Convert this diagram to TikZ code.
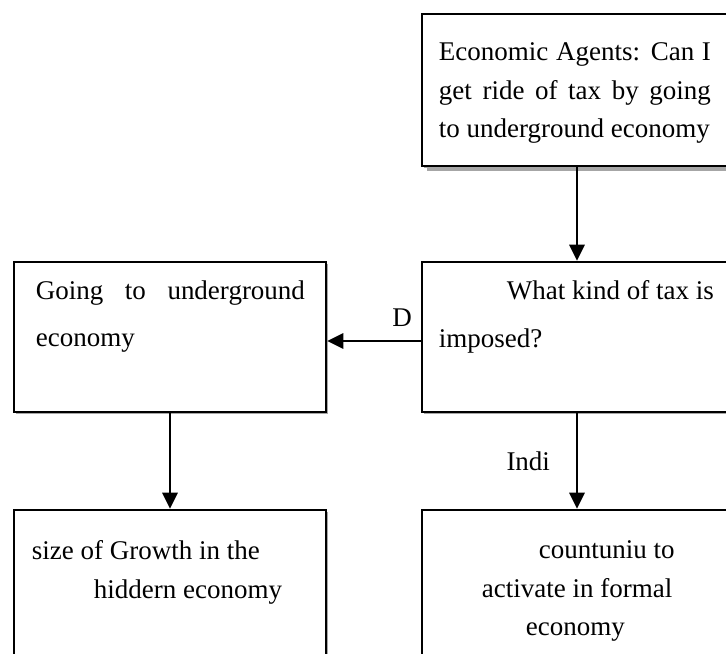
\documentclass[tikz,border=0pt]{standalone}
\usepackage{fontspec}
\setmainfont{Liberation Serif}
\usetikzlibrary{arrows.meta,shadows}

\begin{document}
\begin{tikzpicture}[
  box/.style={draw, line width=1.9pt, fill=white, inner sep=0pt, drop shadow={shadow xshift=0.04cm, shadow yshift=-0.04cm, fill=gray!70, opacity=1}},
  box label/.style={anchor=north west, inner sep=0pt, align=left},
  arrow/.style={-{Triangle[length=0.4cm, width=0.38cm]}, line width=1.9pt},
  every node/.append style={font=\fontsize{19.2}{27.2}\selectfont}
]
\useasboundingbox (0,0) rectangle (18.15,-16.35);
\clip (0,0) rectangle (18.15,-16.35);

\node[box, minimum width=7.95cm, minimum height=3.8cm, drop shadow={shadow xshift=0.12cm, shadow yshift=-0.12cm, fill=gray!70, opacity=1}] (agents box) at (14.525,-2.25) {};
\node[box label] (agents label) at ([xshift=0.45cm, yshift=-0.75cm]agents box.north west) {\makebox[6.8cm][s]{Economic Agents: Can I}\\
\makebox[6.8cm][s]{get ride of tax by going}\\
to underground economy};

\node[box, minimum width=7.95cm, minimum height=3.75cm] (tax box) at (14.525,-8.425) {};
\node[box label, font=\fontsize{19.2}{33.6}\selectfont] (tax label) at ([xshift=0.45cm, yshift=-0.5cm]tax box.north west) {\hspace*{1.7cm}What kind of tax is\\
imposed?};

\node[box, minimum width=7.8cm, minimum height=3.75cm] (going box) at (4.25,-8.425) {};
\node[box label, font=\fontsize{19.2}{33.6}\selectfont] (going label) at ([xshift=0.575cm, yshift=-0.5cm]going box.north west) {\makebox[6.725cm][s]{Going to underground}\\
economy};

\node[box, minimum width=7.8cm, minimum height=4.25cm] (growth box) at (4.25,-14.875) {};
\node[box label] (growth label) at ([xshift=0.475cm, yshift=-0.8cm]growth box.north west) {size of Growth in the\\
\hspace*{1.55cm}hiddern economy};

\node[box, minimum width=7.95cm, minimum height=4.25cm] (formal box) at (14.525,-14.875) {};
\node[box label] (formal label) at ([xshift=1.525cm, yshift=-0.8cm]formal box.north west) {\hspace*{1.425cm}countuniu to\\
activate in formal\\
\hspace*{1.1cm}economy};

%\draw[help lines] (0,0) grid (18,-16);

\draw[arrow] ([xshift=-0.1cm]agents box.south) -- ([xshift=-0.1cm]tax box.north);

\draw[arrow] ([yshift=-0.1cm]tax box.west) -- ([yshift=-0.1cm]going box.east) node[pos=0.2, above, yshift=0.2cm] (d label) {D};

\draw[arrow] (going box.south) -- (growth box.north);

\draw[arrow] ([xshift=-0.1cm]tax box.south) -- ([xshift=-0.1cm]formal box.north) node[midway, left, xshift=-0.525cm] (indi label) {Indi};
\end{tikzpicture}
\end{document}
